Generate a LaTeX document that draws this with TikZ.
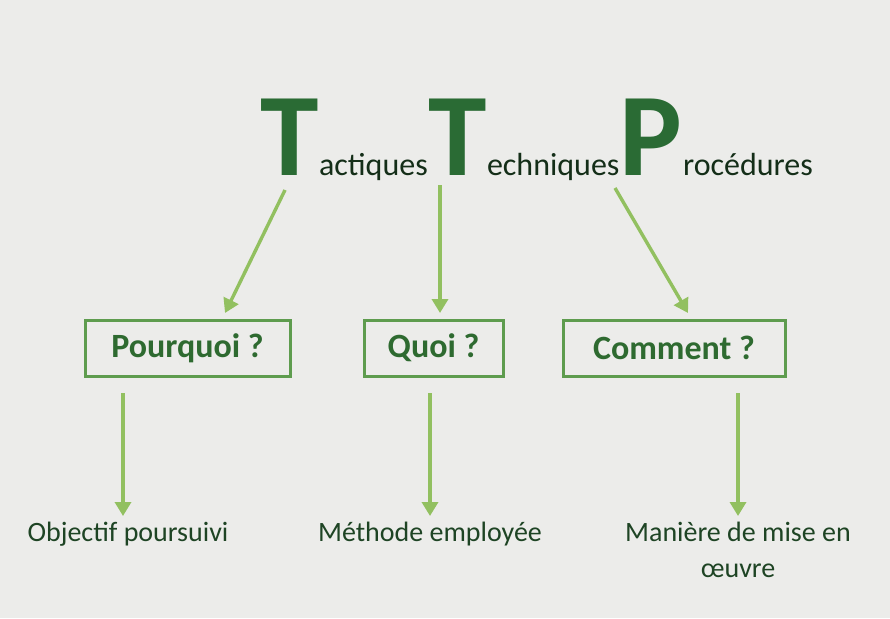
\documentclass[tikz,border=0pt]{standalone}
\usepackage{fontspec}
\setmainfont{Carlito}
\usetikzlibrary{arrows.meta}
\definecolor{bg}{HTML}{ECECEA}
\definecolor{big}{HTML}{2A6B34}
\definecolor{ink}{HTML}{142E18}
\definecolor{boxc}{HTML}{5E9C4E}
\definecolor{boxt}{HTML}{2E6A30}
\definecolor{arr}{HTML}{92C060}
\definecolor{lab}{HTML}{1E4424}
\begin{document}
\begin{tikzpicture}[x=1pt,y=-1pt,
  bigl/.style={inner sep=0pt,anchor=base west,text=big,font=\fontsize{118}{118}\selectfont\bfseries},
  smalll/.style={inner sep=0pt,anchor=base west,text=ink,font=\fontsize{32}{32}\selectfont},
  qbox/.style={draw=boxc,line width=3pt,text=boxt,font=\fontsize{34}{40}\selectfont\bfseries,minimum height=56pt,inner sep=0pt},
  conn/.style={draw=arr,line width=3.4pt,-{Triangle[length=14pt,width=16pt]}},
  lbl/.style={text=lab,font=\fontsize{28}{36}\selectfont,align=center,inner sep=0pt}]
\fill[bg] (0,0) rectangle (890,618);
\node[bigl] (t1) at (260,175) {T};
\node[smalll] (s1) at (t1.base east) {actiques};
\node[bigl] (t2) at (s1.base east) {T};
\node[smalll] (s2) at (t2.base east) {echniques};
\node[bigl] (t3) at (s2.base east) {P};
\node[smalll] (s3) at (t3.base east) {rocédures};
\node[qbox,minimum width=205pt] (b1) at (187.5,348) {Pourquoi ?};
\node[qbox,minimum width=139pt] (b2) at (433.5,348) {Quoi ?};
\node[qbox,minimum width=222pt] (b3) at (674,348) {Comment ?};
\coordinate (a1) at (285,190); \coordinate (e1) at (225,313);
\coordinate (a2) at (440,185); \coordinate (e2) at (440,313);
\coordinate (a3) at (615,188); \coordinate (e3) at (688,313);
\draw[conn] (a1) -- (e1);
\draw[conn] (a2) -- (e2);
\draw[conn] (a3) -- (e3);
\node[lbl,anchor=north] (l1) at (128,522) {Objectif poursuivi};
\node[lbl,anchor=north] (l2) at (430,522) {Méthode employée};
\node[lbl,anchor=north] (l3) at (738,522) {Manière de mise en\\œuvre};
\coordinate (d1) at (123,393); \coordinate (f1) at (123,516);
\coordinate (d2) at (430,393); \coordinate (f2) at (430,516);
\coordinate (d3) at (738,393); \coordinate (f3) at (738,516);
\draw[conn] (d1) -- (f1);
\draw[conn] (d2) -- (f2);
\draw[conn] (d3) -- (f3);
\end{tikzpicture}
\end{document}
